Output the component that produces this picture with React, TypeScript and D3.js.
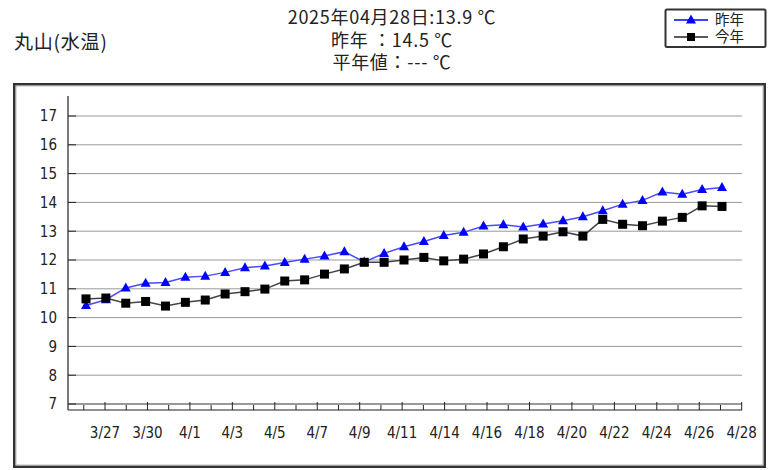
import { scaleLinear, line } from "d3";

// 3/27 .. 4/28, one value per day
const lastYear = [
  10.42, 10.62, 11.03, 11.19, 11.22, 11.4, 11.44, 11.57, 11.73, 11.79, 11.91,
  12.03, 12.14, 12.29, 11.93, 12.23, 12.46, 12.64, 12.85, 12.96, 13.18, 13.22,
  13.15, 13.25, 13.36, 13.5, 13.71, 13.94, 14.07, 14.36, 14.28, 14.45, 14.52,
];
const thisYear = [
  10.65, 10.68, 10.5, 10.56, 10.4, 10.53, 10.61, 10.82, 10.9, 10.99, 11.27,
  11.31, 11.51, 11.69, 11.92, 11.92, 12.0, 12.09, 11.97, 12.03, 12.21, 12.46,
  12.73, 12.83, 12.98, 12.83, 13.41, 13.24, 13.19, 13.35, 13.48, 13.88, 13.86,
];
const tickLabels = [
  "3/27", "3/30", "4/1", "4/3", "4/5", "4/7", "4/9", "4/11",
  "4/14", "4/16", "4/18", "4/20", "4/22", "4/24", "4/26", "4/28",
];
const yTicks = [7, 8, 9, 10, 11, 12, 13, 14, 15, 16, 17];
const titleLines = [
  "2025年04月28日:13.9 ℃",
  "昨年 ：14.5 ℃",
  "平年値：--- ℃",
];

const W = 774;
const H = 470;
const axisLeftX = 68;
const axisRightX = 742;
const axisBottomY = 410;

const cjk = "'Noto Sans CJK JP', 'Noto Sans', sans-serif";
const num = "'DejaVu Sans Condensed', 'DejaVu Sans', sans-serif";

export default function App() {
  const y = scaleLinear().domain([7, 17]).range([404, 116]);
  const x = scaleLinear().domain([0, lastYear.length - 1]).range([86, 722]);
  // axis ticks are laid out on their own (two slots per label)
  const tickX = scaleLinear().domain([0, tickLabels.length * 2 - 1]).range([83.8, 741.7]);
  const slots = Array.from({ length: tickLabels.length * 2 }, (_, i) => i);

  const path = line<number>()
    .x((_, i) => x(i))
    .y((d) => y(d));

  const tri = (cx: number, cy: number) =>
    `M${cx},${cy - 5.5}L${cx + 5},${cy + 3.5}L${cx - 5},${cy + 3.5}Z`;

  return (
    <svg
      width={W}
      height={H}
      style={{ position: "absolute", left: 0, top: 0, background: "#fff" }}
    >
      {/* header */}
      <text x={14} y={49} fontFamily={cjk} fontSize={19} letterSpacing={0.8} fill="#222">
        丸山(水温)
      </text>
      {titleLines.map((t, i) => (
        <text
          key={i}
          x={392}
          y={24 + i * 22.5}
          textAnchor="middle"
          fontFamily={cjk}
          fontSize={18}
          letterSpacing={0.7}
          fill="#222"
        >
          {t}
        </text>
      ))}

      {/* legend */}
      <rect x={665.5} y={9.5} width={100} height={37.5} fill="#fff" stroke="#333" strokeWidth={2} rx={1.5} />
      <line x1={674} x2={708} y1={20} y2={20} stroke="#0000ff" strokeWidth={1.5} />
      <path d={tri(691, 20)} fill="#0000ff" />
      <text x={715} y={25} fontFamily={cjk} fontSize={14.5} fill="#222">昨年</text>
      <line x1={674} x2={708} y1={37} y2={37} stroke="#222" strokeWidth={1.5} />
      <rect x={687} y={33} width={8} height={8} fill="#000" />
      <text x={715} y={42} fontFamily={cjk} fontSize={14.5} fill="#222">今年</text>

      {/* frame */}
      <rect x={14.25} y={84.25} width={750.5} height={382.5} fill="none" stroke="#333" strokeWidth={2.5} />
      <rect x={16} y={86} width={747} height={379} fill="none" stroke="#aaa" strokeWidth={0.8} />

      {/* grid */}
      {yTicks.map((t) => (
        <g key={t}>
          {t !== 7 && (
            <line x1={axisLeftX} x2={axisRightX} y1={y(t)} y2={y(t)} stroke="#999" strokeWidth={1} />
          )}
          <line x1={axisLeftX} x2={axisLeftX + 8} y1={y(t)} y2={y(t)} stroke="#222" strokeWidth={1} />
          <text
            x={57}
            y={y(t)}
            dy="0.36em"
            textAnchor="end"
            fontFamily={num}
            fontSize={15}
            fill="#222"
          >
            {t}
          </text>
        </g>
      ))}

      {/* x axis */}
      <line x1={axisLeftX} x2={axisRightX} y1={y(7)} y2={y(7)} stroke="#333" strokeWidth={1} />
      <line x1={axisLeftX} x2={axisRightX} y1={axisBottomY} y2={axisBottomY} stroke="#222" strokeWidth={1.2} />
      <line x1={axisLeftX} x2={axisLeftX} y1={96} y2={axisBottomY} stroke="#222" strokeWidth={1.2} />
      {slots.map((s) => (
        <line
          key={s}
          x1={tickX(s)}
          x2={tickX(s)}
          y1={s % 2 === 1 ? 402 : 405}
          y2={axisBottomY}
          stroke="#222"
          strokeWidth={1}
        />
      ))}
      {tickLabels.map((l, i) => (
        <text
          key={l}
          x={tickX(i * 2 + 1)}
          y={438}
          textAnchor="middle"
          fontFamily={num}
          fontSize={15}
          fill="#222"
        >
          {l}
        </text>
      ))}

      {/* series */}
      <path d={path(lastYear) || ""} fill="none" stroke="#4a4aff" strokeWidth={1.5} />
      {lastYear.map((v, i) => (
        <path key={i} d={tri(x(i), y(v))} fill="#0000ff" />
      ))}
      <path d={path(thisYear) || ""} fill="none" stroke="#444" strokeWidth={1.5} />
      {thisYear.map((v, i) => (
        <rect key={i} x={x(i) - 4.5} y={y(v) - 4.5} width={9} height={9} fill="#000" />
      ))}
    </svg>
  );
}
